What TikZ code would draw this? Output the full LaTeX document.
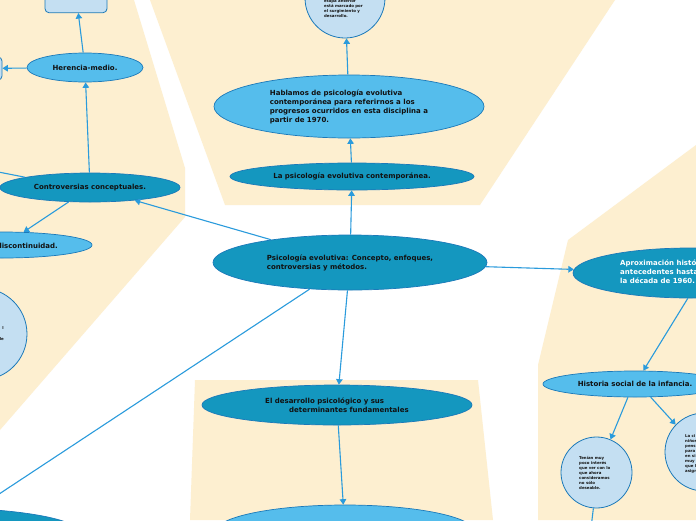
\documentclass[tikz,border=0pt]{standalone}
\usepackage{fontspec}
\setmainfont{DejaVu Sans}
\usetikzlibrary{shapes.geometric,arrows.meta}
\definecolor{bgc}{HTML}{FDEFD0}
\definecolor{lblue}{HTML}{55BDEC}
\definecolor{dteal}{HTML}{1497BF}
\definecolor{pale}{HTML}{C4DFF2}
\definecolor{bord}{HTML}{1B79B9}
\definecolor{cline}{HTML}{2A9BDC}
\definecolor{ink}{HTML}{111111}
\begin{document}
\begin{tikzpicture}[x=1pt,y=-1pt,
  every node/.style={font=\bfseries\fontsize{7}{9}\selectfont, text=ink},
  dk/.style={ellipse, draw=bord, fill=dteal, line width=0.7pt, inner sep=0pt},
  lt/.style={ellipse, draw=bord, fill=lblue, line width=0.7pt, inner sep=0pt},
  pc/.style={circle, draw=bord, fill=pale, line width=0.8pt, inner sep=0pt},
  pr/.style={rectangle, rounded corners=4pt, draw=bord, fill=pale, line width=0.8pt, inner sep=0pt},
  tiny/.style={font=\bfseries\fontsize{3.9}{5}\selectfont, align=left, inner sep=0pt},
  arr/.style={draw=cline, line width=1.1pt, -{Triangle[width=6.5pt,length=5.5pt]}},
  ln/.style={draw=cline, line width=1.1pt}]
\useasboundingbox (0,0) rectangle (696,520);
\clip (0,0) rectangle (696,520);
\fill[white] (0,0) rectangle (696,520);
% background areas
\fill[bgc] (0,0) -- (134,0) -- (185,168) -- (185,217) -- (0,430) -- cycle;
\fill[bgc] (150,0) -- (615,0) -- (480,205) -- (225,205) -- cycle;
\fill[bgc] (195,380) -- (478,380) -- (493,520) -- (190,520) -- cycle;
\fill[bgc] (696,145) -- (568,240) -- (538,365) -- (538,520) -- (696,520) -- cycle;

% nodes
\node[pc, minimum size=80pt] (topc) at (345,-2) {};
\node[tiny, anchor=north west] (topt) at (324,-0.5) {etapa anterior\\está marcado por\\el surgimiento y\\desarrollo.};
\node[lt, minimum width=270pt, minimum height=63pt, align=left] (habl) at (349,106.5)
  {Hablamos de psicología evolutiva\\contemporánea para referirnos a los\\progresos ocurridos en esta disciplina a\\partir de 1970.};
\node[dk, minimum width=244pt, minimum height=27pt] (lapsi) at (352,176.5) {La psicología evolutiva contemporánea.};
\node[dk, minimum width=274pt, minimum height=55pt, align=left] (cent) at (350,262.5)
  {Psicología evolutiva: Concepto, enfoques,\\controversias y métodos.};
\node[dk, minimum width=180pt, minimum height=29pt] (contro) at (90,187.5) {Controversias conceptuales.};
\node[lt, minimum width=116pt, minimum height=29pt] (heren) at (85,67.5) {Herencia-medio.};
\node[pr, minimum width=62pt, minimum height=36pt] (rtop) at (76,-5.3) {};
\node[pr, minimum width=44pt, minimum height=23pt] (rleft) at (-20,68.5) {};
\coordinate (offL) at (-40,164.5);
\node[lt, minimum width=180pt, minimum height=26pt] (disc) at (2,245) {};
\node[anchor=east, inner sep=0pt] (disct) at (58,246) {discontinuidad.};
\node[pc, minimum size=92pt] (lcirc) at (-19,334) {};
\node[tiny, anchor=north east, align=right, font=\bfseries\fontsize{3.9}{11}\selectfont] (lcirct) at (4,326.5) {l\\le};
\node[dk, minimum width=280pt, minimum height=50pt] (blell) at (-60,533) {};
\node[dk, minimum width=234pt, minimum height=50pt] (aprox) at (690,273) {};
\node[anchor=north west, align=left, text=white, inner sep=0pt] (aproxt) at (620,260)
  {Aproximación histó\\antecedentes hasta\\la década de 1960.};
\node[lt, minimum width=184pt, minimum height=26pt] (hist) at (635,384) {Historia social de la infancia.};
\node[pc, minimum size=71pt] (tcirc) at (596.5,472.5) {};
\node[tiny, anchor=north west] (tcirct) at (579,456)
  {Tenían muy\\poco interés\\que ver con lo\\que ahora\\consideramos\\no sólo\\deseable.};
\node[pc, minimum size=78pt] (rcirc) at (704,452) {};
\node[tiny, anchor=north west] (rcirct) at (685,434.5)
  {La ci\\niños\\pens\\para\\en si\\muy\\que l\\asign};
\coordinate (offB) at (589,545);
\node[dk, minimum width=270pt, minimum height=40pt, align=left] (desa) at (337,405)
  {El desarrollo psicológico y sus\\\hspace*{24pt}determinantes fundamentales};
\node[lt, minimum width=260pt, minimum height=54pt] (bot) at (345,532) {};

% connectors
\draw[arr] (habl) -- (topc);
\draw[arr] (lapsi) -- (habl);
\draw[arr] (cent) -- (lapsi);
\draw[arr] (cent) -- (contro);
\draw[arr] (cent) -- (aprox);
\draw[arr] (cent) -- (desa);
\draw[arr] (cent) -- (blell);
\draw[arr] (contro) -- (heren);
\draw[arr] (heren) -- (rtop);
\draw[arr] (heren) -- (rleft);
\draw[arr] (contro.171) -- (offL);
\draw[arr] (contro.-146) -- (disc.31);
\draw[arr] (aprox.-95) -- (hist.58);
\draw[arr] (hist.-118) -- (tcirc.67);
\draw[arr] (hist.-40) -- (rcirc.136);
\draw[arr] (tcirc.-95) -- (offB);
\draw[arr] (desa) -- (bot);
\end{tikzpicture}
\end{document}
